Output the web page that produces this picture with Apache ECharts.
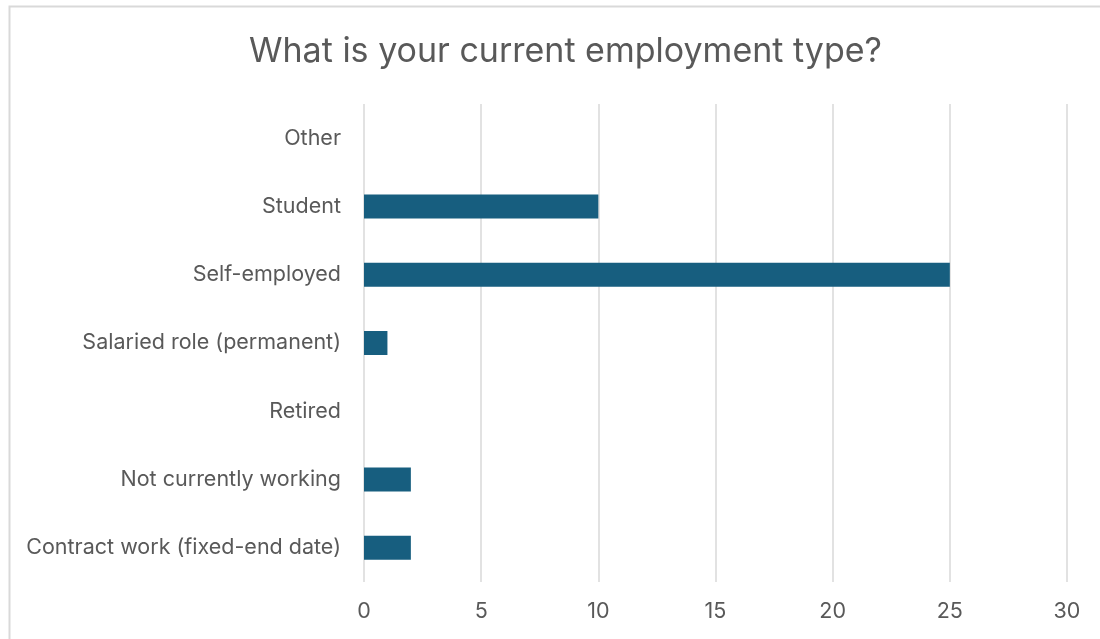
<!DOCTYPE html>
<html><head><meta charset="utf-8">
<script src="https://cdn.jsdelivr.net/npm/echarts@6/dist/echarts.min.js"></script>
<style>html,body{margin:0;padding:0;background:#fff;}#c{width:1100px;height:639px;}</style>
</head><body><div id="c"></div>
<script>
const categories = ["Contract work (fixed-end date)","Not currently working","Retired","Salaried role (permanent)","Self-employed","Student","Other"];
const values = [2,2,0,1,25,10,0];
const titleText = "What is your current employment type?";
const chart = echarts.init(document.getElementById('c'), null, {renderer:'canvas'});
chart.setOption({
  animation:false,
  backgroundColor:'#fff',
  graphic:[{type:'rect',shape:{x:9.5,y:6.5,width:1200,height:700},style:{fill:'none',stroke:'#d9d9d9',lineWidth:2},silent:true}],
  title:{text:titleText,left:244,top:30,textStyle:{fontFamily:'Inter',fontSize:34,fontWeight:'normal',color:'#595959'}},
  grid:{left:364,right:33,top:104,bottom:57,containLabel:false},
  xAxis:{type:'value',min:0,max:30,interval:5,
    axisLine:{show:false},axisTick:{show:false},
    axisLabel:{fontFamily:'Inter',fontSize:21.5,color:'#595959',margin:19},
    splitLine:{lineStyle:{color:'#d9d9d9',width:1.5}}},
  yAxis:{type:'category',data:categories,
    axisLine:{show:false},axisTick:{show:false},
    axisLabel:{fontFamily:'Inter',fontSize:21.5,color:'#595959',margin:23}},
  series:[{type:'bar',data:values,barWidth:24,itemStyle:{color:'#175E7F'}}]
});
</script></body></html>
